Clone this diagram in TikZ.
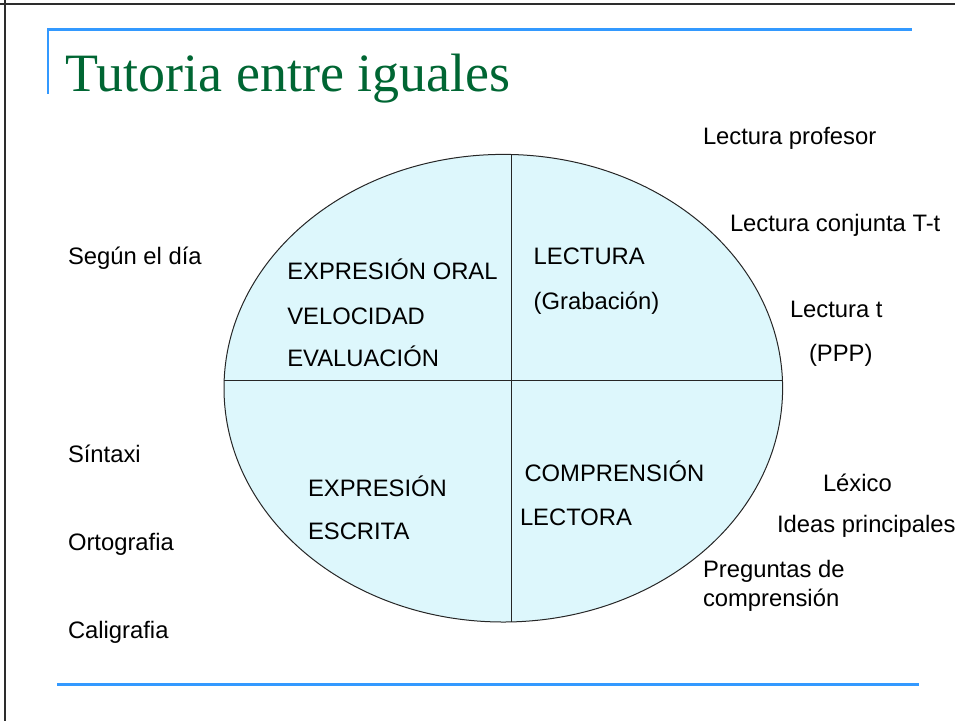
\documentclass[tikz,border=0pt]{standalone}
\usepackage{fontspec}
\setmainfont{Liberation Sans}
\newfontfamily\titlefont{Liberation Serif}
\definecolor{fillcyan}{RGB}{221,247,252}
\definecolor{titlegreen}{RGB}{0,102,51}
\definecolor{ruleblue}{RGB}{51,153,255}
\definecolor{framegray}{RGB}{45,45,45}
\tikzset{
  lbl/.style={anchor=base west, inner sep=0pt, outer sep=0pt, font=\fontsize{23.8}{28}\selectfont, text=black},
  ttl/.style={anchor=base west, inner sep=0pt, outer sep=0pt, font=\titlefont\fontsize{54}{60}\selectfont, text=titlegreen},
  bluerule/.style={draw=ruleblue, line width=2.4pt},
  framerule/.style={draw=framegray, line width=2pt},
  quad/.style={draw=black!85, line width=1pt}
}
\begin{document}
\begin{tikzpicture}[x=1pt, y=-1pt]
\useasboundingbox (0,0) rectangle (955,721);
% slide frame
\draw[framerule] (0,4) -- (955,4);
\draw[framerule] (5,0) -- (5,721);
% blue rules
\draw[bluerule] (48,93.5) -- (48,29.5) -- (912,29.5);
\draw[bluerule] (57,684.5) -- (919,684.5);
% title
\node[ttl] (title) at (65.5,91.7) {Tutoria entre iguales};
% ellipse with quadrants
\coordinate (C) at (503.3,388.2);
\fill[fillcyan] (C) ellipse [x radius=279.3pt, y radius=233.8pt];
\begin{scope}
  \clip (C) ellipse [x radius=279.3pt, y radius=233.8pt];
  \draw[quad] (511,100) -- (511,700);
  \draw[quad] (200,380.8) -- (800,380.8);
\end{scope}
\draw[quad] (C) ellipse [x radius=279.3pt, y radius=233.8pt];
% quadrant texts
\node[lbl] (eo)  at (287.3,279.3) {EXPRESIÓN ORAL};
\node[lbl] (vel) at (287.3,324)   {VELOCIDAD};
\node[lbl] (eva) at (287.3,366.7) {EVALUACIÓN};
\node[lbl] (lec) at (533.7,264.3) {LECTURA};
\node[lbl] (gra) at (533.7,309)   {(Grabación)};
\node[lbl] (exe) at (308,496.7)   {EXPRESIÓN};
\node[lbl] (esc) at (308,539.3)   {ESCRITA};
\node[lbl] (com) at (524.5,481.7) {COMPRENSIÓN};
\node[lbl] (lco) at (520,525.7)   {LECTORA};
% left texts
\node[lbl] (seg) at (68,264.5) {Según el día};
\node[lbl] (sin) at (68,462)   {Síntaxi};
\node[lbl] (ort) at (68,550)   {Ortografia};
\node[lbl] (cal) at (68,638)   {Caligrafia};
% right texts
\node[lbl] (lp)  at (703,144)  {Lectura profesor};
\node[lbl] (lcj) at (730,231)  {Lectura conjunta T-t};
\node[lbl] (lt)  at (790,317)  {Lectura t};
\node[lbl] (ppp) at (809,361)  {(PPP)};
\node[lbl] (lex) at (823,491)  {Léxico};
\node[lbl] (ide) at (777,532)  {Ideas principales};
\node[lbl] (pre) at (703,577)  {Preguntas de};
\node[lbl] (cmp) at (703,606)  {comprensión};
\end{tikzpicture}
\end{document}
